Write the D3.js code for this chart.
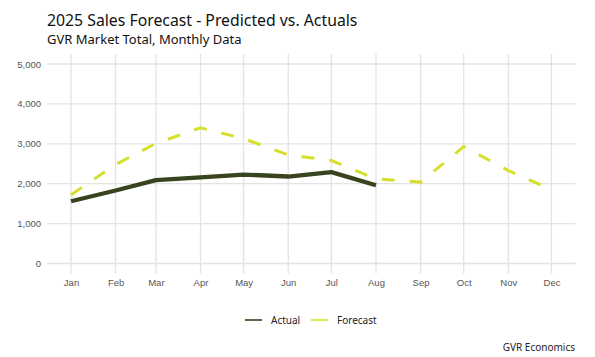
<!DOCTYPE html>
<html>
<head>
<meta charset="utf-8">
<script src="https://cdn.jsdelivr.net/npm/d3@7"></script>
<style>
  html, body { margin: 0; padding: 0; background: #fff; }
  svg { display: block; font-family: "Noto Sans", "Lato", sans-serif; }
</style>
</head>
<body>
<svg id="chart" width="595" height="357"></svg>
<script>
const months = ["Jan","Feb","Mar","Apr","May","Jun","Jul","Aug","Sep","Oct","Nov","Dec"];
const actualValues = [1560, 1830, 2090, 2160, 2230, 2180, 2290, 1960];
const forecastValues = [1720, 2480, 3010, 3400, 3130, 2720, 2580, 2120, 2040, 2930, 2330, 1850];
const yTicks = [0, 1000, 2000, 3000, 4000, 5000];
const titleText = "2025 Sales Forecast - Predicted vs. Actuals";
const subtitleText = "GVR Market Total, Monthly Data";
const captionText = "GVR Economics";
const seriesNames = ["Actual", "Forecast"];

const colors = { Actual: "#38441e", Forecast: "#d6e02c" };

const svg = d3.select("#chart");
const panel = { left: 47, right: 575.5, top: 54, bottom: 273.5 };

const dates = months.map((m, i) => new Date(2025, i, 1));
const dStart = dates[0], dEnd = dates[11];
const span = dEnd - dStart;
const x = d3.scaleTime()
  .domain([new Date(+dStart - span * 0.05), new Date(+dEnd + span * 0.05)])
  .range([panel.left, panel.right]);
const y = d3.scaleLinear()
  .domain([-250, 5250])
  .range([panel.bottom, panel.top]);

// gridlines
const grid = svg.append("g");
grid.selectAll("line.h").data(yTicks).join("line")
  .attr("x1", panel.left).attr("x2", panel.right)
  .attr("y1", d => y(d)).attr("y2", d => y(d))
  .attr("stroke", "#e3e3e3").attr("stroke-width", 1.3);
grid.selectAll("line.v").data(dates).join("line")
  .attr("y1", panel.top).attr("y2", panel.bottom)
  .attr("x1", d => x(d)).attr("x2", d => x(d))
  .attr("stroke", "#e3e3e3").attr("stroke-width", 1.3);

// axes
const yAxis = svg.append("g")
  .attr("transform", `translate(${panel.left},0)`)
  .call(d3.axisLeft(y).tickValues(yTicks).tickSize(0).tickPadding(6).tickFormat(d3.format(",")));
yAxis.select(".domain").remove();
yAxis.selectAll("text").attr("fill", "#555").style("font-size", "9.5px");

const xAxis = svg.append("g")
  .attr("transform", `translate(0,${panel.bottom})`)
  .call(d3.axisBottom(x).tickValues(dates).tickSize(0).tickPadding(6).tickFormat((d, i) => months[i]));
xAxis.select(".domain").remove();
xAxis.selectAll("text").attr("fill", "#555").style("font-size", "9.5px");

// lines
const line = d3.line().x(d => x(d.date)).y(d => y(d.value));
const forecastData = forecastValues.map((v, i) => ({ date: dates[i], value: v }));
const actualData = actualValues.map((v, i) => ({ date: dates[i], value: v }));

svg.append("path").datum(forecastData)
  .attr("d", line).attr("fill", "none")
  .attr("stroke", colors.Forecast).attr("stroke-width", 3)
  .attr("stroke-dasharray", "13,15");
svg.append("path").datum(actualData)
  .attr("d", line).attr("fill", "none")
  .attr("stroke", colors.Actual).attr("stroke-width", 4.3)
  .attr("stroke-linejoin", "round");

// titles
svg.append("text").attr("x", 47).attr("y", 26)
  .attr("fill", "#111").style("font-size", "15.8px").text(titleText);
svg.append("text").attr("x", 47).attr("y", 43.5)
  .attr("fill", "#111").style("font-size", "13px").text(subtitleText);

// legend
const legend = svg.append("g");
const legendItems = [
  { name: seriesNames[0], x0: 245, tx: 271 },
  { name: seriesNames[1], x0: 311, tx: 337 }
];
legendItems.forEach(it => {
  legend.append("line").attr("x1", it.x0).attr("x2", it.x0 + 17)
    .attr("y1", 320).attr("y2", 320)
    .attr("stroke", colors[it.name]).attr("stroke-width", 1.6);
  legend.append("text").attr("x", it.tx).attr("y", 320).attr("dy", "0.35em")
    .attr("fill", "#222").style("font-size", "10px").text(it.name);
});

// caption
svg.append("text").attr("x", 575).attr("y", 351).attr("text-anchor", "end")
  .attr("fill", "#222").style("font-size", "10px").text(captionText);
</script>
</body>
</html>
